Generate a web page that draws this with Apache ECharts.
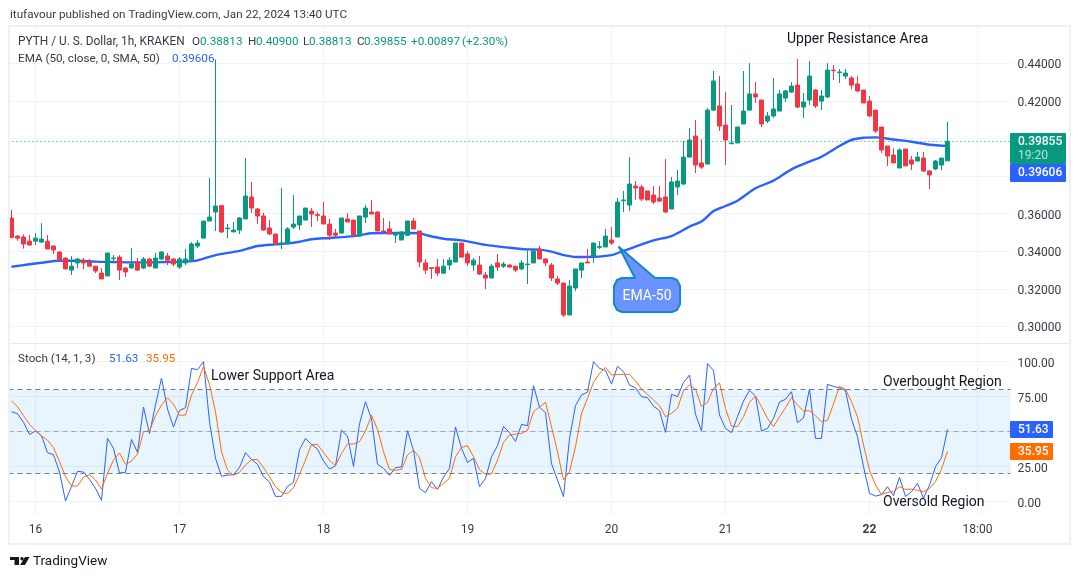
<!DOCTYPE html>
<html>
<head>
  <meta charset="utf-8" />
  <title>PYTH / U. S. Dollar, 1h</title>
  <script src="https://cdn.jsdelivr.net/npm/echarts@6/dist/echarts.min.js"></script>
  <style>
    html, body { margin: 0; padding: 0; background: #fff; }
    #main { width: 1080px; height: 579px; }
  </style>
</head>
<body>
  <div id="main"></div>
  <script>
    // hourly candles
    var opens = [
      .3577,.3481,.3476,.3454,.3454,.3449,.3454,.3428,.3396,.3364,
      .3300,.3338,.3353,.3343,.3321,.3284,.3269,.3361,.3369,.3311,
      .3311,.3343,.3311,.3359,.3311,.3359,.3375,.3359,.3316,.3338,
      .3353,.3428,.3470,.3561,.3609,.3643,.3520,.3503,.3513,.3572,
      .3689,.3625,.3588,.3524,.3492,.3439,.3439,.3529,.3540,.3566,
      .3614,.3595,.3588,.3545,.3497,.3497,.3572,.3566,.3481,.3582,
      .3609,.3609,.3508,.3519,.3486,.3460,.3485,.3561,.3508,.3338,
      .3313,.3316,.3284,.3327,.3343,.3444,.3386,.3327,.3327,.3274,
      .3258,.3338,.3321,.3327,.3321,.3306,.3329,.3338,.3412,.3359,
      .3327,.3253,.3231,.3061,.3205,.3300,.3343,.3375,.3421,.3423,
      .3460,.3476,.3669,.3646,.3747,.3742,.3721,.3699,.3683,.3689,
      .3625,.3742,.3758,.3901,.4013,.3870,.3864,.4151,.4173,.4072,
      .3972,.3976,.4077,.4151,.4237,.4205,.4093,.4120,.4146,.4215,
      .4247,.4284,.4167,.4205,.4258,.4199,.4221,.4364,.4350,.4332,
      .4322,.4290,.4258,.4199,.4151,.4061,.3960,.3912,.3843,.3944,
      .3886,.3880,.3896,.3827,.3838,.3859,.38813
    ];
    var closes = [
      .3474,.3470,.3439,.3433,.3470,.3465,.3412,.3407,.3353,.3306,
      .3321,.3359,.3338,.3321,.3295,.3253,.3391,.3364,.3300,.3290,
      .3332,.3300,.3359,.3321,.3364,.3396,.3353,.3332,.3359,.3359,
      .3439,.3444,.3561,.3582,.3641,.3503,.3524,.3513,.3577,.3694,
      .3630,.3588,.3513,.3492,.3439,.3444,.3519,.3545,.3588,.3630,
      .3598,.3591,.3545,.3486,.3486,.3577,.3556,.3486,.3588,.3630,
      .3598,.3508,.3503,.3492,.3497,.3503,.3561,.3519,.3343,.3300,
      .3309,.3284,.3321,.3353,.3444,.3369,.3338,.3353,.3279,.3258,
      .3321,.3316,.3332,.3316,.3300,.3338,.3332,.3401,.3359,.3338,
      .3258,.3231,.3061,.3215,.3306,.3338,.3338,.3444,.3425,.3481,
      .3444,.3662,.3673,.3758,.3737,.3678,.3673,.3662,.3667,.3609,
      .3769,.3774,.3901,.3992,.3859,.3848,.4151,.4306,.4066,.3992,
      .3976,.4061,.4146,.4237,.4221,.4077,.4120,.4157,.4237,.4253,
      .4279,.4167,.4194,.4332,.4173,.4226,.4364,.4361,.4354,.4348,
      .4284,.4253,.4189,.4120,.4040,.3939,.3907,.3870,.3939,.3854,
      .3864,.3901,.3827,.3806,.3880,.3896,.39855
    ];
    var lows = [
      .3469,.3456,.3414,.3433,.3433,.3444,.3412,.3386,.3353,.3306,
      .3274,.3311,.3306,.3321,.3284,.3253,.3269,.3343,.3247,.3263,
      .3311,.3295,.3306,.3316,.3311,.3353,.3327,.3321,.3306,.3327,
      .3353,.3417,.3470,.3561,.3508,.3497,.3470,.3503,.3492,.3572,
      .3604,.3545,.3508,.3486,.3439,.3412,.3439,.3519,.3513,.3566,
      .3529,.3561,.3545,.3460,.3476,.3492,.3556,.3481,.3481,.3550,
      .3598,.3508,.3503,.3492,.3444,.3460,.3481,.3519,.3316,.3279,
      .3253,.3269,.3279,.3300,.3343,.3369,.3321,.3295,.3274,.3199,
      .3258,.3295,.3311,.3311,.3290,.3300,.3226,.3338,.3359,.3321,
      .3242,.3221,.3050,.3061,.3189,.3258,.3338,.3338,.3412,.3423,
      .3433,.3476,.3609,.3614,.3673,.3667,.3673,.3652,.3662,.3604,
      .3625,.3699,.3753,.3901,.3816,.3838,.3864,.4146,.4040,.3859,
      .3971,.3976,.4077,.4151,.4189,.4061,.4082,.4109,.4146,.4194,
      .4242,.4162,.4109,.4178,.4162,.4151,.4215,.4311,.4295,.4316,
      .4263,.4247,.4189,.4114,.4029,.3923,.3854,.3870,.3843,.3854,
      .3832,.3880,.3822,.3731,.3832,.3832,.38813
    ];
    var highs = [
      .3620,.3486,.3490,.3486,.3497,.3550,.3486,.3433,.3401,.3369,
      .3375,.3364,.3364,.3359,.3321,.3311,.3391,.3380,.3380,.3316,
      .3417,.3364,.3369,.3364,.3391,.3401,.3391,.3364,.3369,.3412,
      .3449,.3460,.3561,.3790,.4421,.3643,.3545,.3556,.3582,.3896,
      .3769,.3630,.3604,.3566,.3492,.3737,.3529,.3699,.3588,.3630,
      .3630,.3609,.3662,.3572,.3519,.3577,.3604,.3566,.3588,.3646,
      .3673,.3614,.3577,.3561,.3503,.3503,.3561,.3577,.3508,.3359,
      .3313,.3359,.3359,.3369,.3444,.3444,.3401,.3364,.3375,.3290,
      .3332,.3386,.3343,.3332,.3321,.3353,.3412,.3407,.3428,.3364,
      .3338,.3269,.3231,.3247,.3306,.3338,.3412,.3444,.3454,.3519,
      .3529,.3683,.3721,.3901,.3774,.3753,.3721,.3747,.3747,.3891,
      .3795,.3832,.3987,.4056,.4098,.3997,.4162,.4359,.4332,.4247,
      .4178,.4061,.4359,.4401,.4300,.4205,.4141,.4322,.4258,.4258,
      .4300,.4423,.4242,.4412,.4263,.4258,.4401,.4391,.4370,.4370,
      .4332,.4332,.4258,.4226,.4151,.4061,.3960,.3949,.3949,.3944,
      .3907,.3928,.3928,.3832,.3886,.3896,.40900
    ];

    // EMA 50, read at these bars
    var emaIndex = [
      0,3,5,8,11,14,17,20,23,26,29,31,34,38,41,44,46,48,50,53,56,58,60,62,66,68,69,72,75,79,
      83,86,88,90,92,94,97,100,102,104,107,110,113,115,117,119,121,124,127,130,133,135,138,
      140,142,144,147,150,153,156
    ];
    var emaValues = [
      .3318,.3331,.3339,.3350,.3350,.3345,.3343,.3341,.3341,.3343,.3345,.3352,.3380,.3402,.3428,
      .3437,.3442,.3451,.3464,.3471,.3478,.3485,.3496,.3497,.3497,.3496,.3487,.3467,.3458,.3434,
      .3419,.3410,.3409,.3398,.3380,.3370,.3371,.3380,.3402,.3425,.3458,.3481,.3531,.3558,.3614,
      .3641,.3669,.3735,.3776,.3836,.3877,.3903,.3960,.3992,.4004,.4006,.3995,.3983,.3967,.39606
    ];

    var stochK = [
      64.3,62.9,56.7,48.1,50.5,47.1,35.0,33.6,21.2,0.5,
      10.9,21.7,21.2,16,9.5,1,45.2,38.1,20.5,21,
      44.5,35.2,67.6,48.6,69,88.3,66.2,53.3,65.2,67.1,
      95.2,94.3,100,57.1,31,18.1,19,19.3,24.5,35,
      30.2,26.7,17.9,14,3.8,3.8,10.9,13.8,37.1,45.2,
      40.9,37.6,29,23.3,25.7,51,46.9,25.2,55.7,71.4,
      59,26.7,23.8,18.8,24.3,24.8,50.7,36.7,9.5,6.4,
      14.3,8.8,17.6,23.8,53.3,38.1,28.1,31,10.7,16.7,
      32.1,40,53.8,49.3,43.1,55.2,54.3,82.9,67.4,63.6,
      27.1,15.5,3.6,45.2,68.6,76.2,78.3,100,95.2,93.8,
      84,96.7,92.9,83.3,81.4,75,74.3,68.3,65,49.5,
      76.7,75,85.2,90.5,62.4,50.5,98.6,93.8,61.9,52.4,
      49.3,60.7,71.9,79.5,75.5,50.5,52.4,59.5,71.2,73.1,
      78.6,56.4,59.8,80.5,45.2,45.2,83.8,82.4,81.4,79.3,
      59,46.4,25,6,4,5,10.7,4.3,17.4,3.8,
      7.1,13.1,2.4,11.9,25,31.4,51.63
    ];
    var stochD = [
      71.9,67.9,61.4,55.2,51,47.1,44,38.6,28.6,17.9,
      11.2,11.2,17.6,19.3,15.5,9,20.2,29.8,34.8,26.7,
      29,34,50,50.5,61.4,69,74.3,69.5,61.7,61.9,
      76.2,85.2,96.4,83.8,64.3,35.7,22.6,18.8,21,26.2,
      30,30.2,24.3,17.9,10.7,6.7,5.7,10,19.5,29.8,
      40.9,40.9,35.2,29.5,25.7,34.5,41.2,41.2,42.9,50.5,
      61.7,51.7,35.7,22.9,22.4,23.1,33.3,36.9,31.4,16.7,
      10,9.5,13.1,16.7,32.1,38.8,40,32.1,22.9,19.5,
      19.8,29.8,42.4,47.6,48.3,48.8,51,64.3,67.6,71,
      53.6,35.7,15.5,21.4,39.3,63.1,73.8,85.2,91.7,95.9,
      90.5,90.9,90.9,90.9,86.2,80.5,76.7,72.6,68.6,60.7,
      63.1,66.7,79.3,83.3,80.5,67.9,71,81,84.8,66.7,
      54,53.6,60.7,71,75.5,67.9,59.5,53.6,60.7,67.1,
      74.3,69,64.8,65,61.4,57.1,58.1,69.8,82.4,80.2,
      71.4,60.7,40.5,22.6,11.9,5.2,6.7,7.1,10.7,8.8,
      9,8.1,7.1,9.5,14.3,23.3,35.95
    ];

    var tickBars = [4, 28, 52, 76, 100, 119, 143, 161];
    var tickLabels = ['16', '17', '18', '19', '20', '21', '22', '18:00'];
    var priceTicks = [0.30, 0.32, 0.34, 0.36, 0.38, 0.40, 0.42, 0.44];
    var priceLabels = [0.30, 0.32, 0.34, 0.36, 0.42, 0.44]; // 0.38 and 0.40 sit under the tags
    var stochTicks = [0, 25, 50, 75, 100];
    var stochLabels = [0, 25, 75, 100];

    var barSlots = 167; // bars plus the empty space up to the price scale
    var categories = [];
    for (var i = 0; i < barSlots; i++) categories.push(String(i));

    var candles = opens.map(function (o, k) { return [o, closes[k], lows[k], highs[k]]; });
    var ema = emaIndex.map(function (b, k) { return [b, emaValues[k]]; });

    var UP = '#089981', DOWN = '#f23645', BLUE = '#2962ff', ORANGE = '#ff6d00';
    var TEXT = '#363a45', GRID = '#f0f3fa';
    var FONT = 'Roboto, "Noto Sans", sans-serif';

    function showTick(idx) { return tickBars.indexOf(idx) >= 0; }

    function txt(x, y, s, color, size, extra) {
      var style = { x: x, y: y, text: s, fill: color, font: (size || 11.7) + 'px ' + FONT, verticalAlign: 'middle' };
      for (var k in (extra || {})) style[k] = extra[k];
      return { type: 'text', z: 100, silent: true, style: style };
    }

    function box(x, y, w, h, color, r) {
      return { type: 'rect', z: 90, silent: true, shape: { x: x, y: y, width: w, height: h, r: r || 0 }, style: { fill: color } };
    }

    var graphics = [
      // frame around the chart
      box(0, 27, 9, 517, '#fff'),
      { type: 'rect', z: 91, silent: true, shape: { x: 9, y: 26, width: 1061, height: 518 }, style: { fill: 'none', stroke: '#eef0f6', lineWidth: 2 } },
      { type: 'line', z: 91, silent: true, shape: { x1: 10, y1: 343.5, x2: 1070, y2: 343.5 }, style: { stroke: '#e8eaf0', lineWidth: 1 } },

      txt(10, 15.5, 'itufavour published on TradingView.com, Jan 22, 2024 13:40 UTC', TEXT),

      // legend rows
      txt(18, 42.5, 'PYTH / U. S. Dollar, 1h, KRAKEN', TEXT, 11.85),
      txt(192, 42.5, 'O', TEXT), txt(200, 42.5, '0.38813', UP),
      txt(248, 42.5, 'H', TEXT), txt(256, 42.5, '0.40900', UP),
      txt(303, 42.5, 'L', TEXT), txt(309, 42.5, '0.38813', UP),
      txt(357, 42.5, 'C', TEXT), txt(364, 42.5, '0.39855', UP),
      txt(411, 42.5, '+0.00897', UP), txt(462, 42.5, '(+2.30%)', UP),
      txt(18, 59.5, 'EMA (50, close, 0, SMA, 50)', TEXT),
      txt(172, 59.5, '0.39606', BLUE),
      txt(18, 359.5, 'Stoch (14, 1, 3)', TEXT),
      txt(109, 359.5, '51.63', BLUE),
      txt(146, 359.5, '35.95', ORANGE),

      // notes on the chart
      txt(787, 39, 'Upper Resistance Area', '#131722', 14),
      txt(211, 376, 'Lower Support Area', '#131722', 14),
      txt(883, 382, 'Overbought Region', '#131722', 14),
      txt(883, 502, 'Oversold Region', '#131722', 14),

      // EMA-50 callout
      {
        type: 'polygon', z: 95, silent: true,
        shape: { points: [[619, 247], [655, 278], [672, 278], [677, 280], [680, 286], [680, 304], [677, 310], [672, 312], [622, 312], [617, 310], [614, 304], [614, 286], [617, 280], [622, 278], [635, 278]] },
        style: { fill: '#6b93ff', stroke: '#1289c9', lineWidth: 2, lineJoin: 'round' }
      },
      txt(647, 296, 'EMA-50', '#fff', 14, { align: 'center' }),

      // price scale tags
      box(1010, 133, 56, 31, UP, 1),
      txt(1018, 142, '0.39855', '#fff', 12, { font: '500 12px ' + FONT }),
      txt(1018, 156, '19:20', '#b5e2d6', 12),
      box(1010, 164, 56, 18, BLUE, 1),
      txt(1018, 173, '0.39606', '#fff', 12, { font: '500 12px ' + FONT }),

      // stochastic tags
      box(1010, 421, 43, 17, BLUE, 1),
      txt(1018, 430, '51.63', '#fff', 12, { font: '500 12px ' + FONT }),
      box(1010, 443, 43, 17, ORANGE, 1),
      txt(1018, 452, '35.95', '#fff', 12, { font: '500 12px ' + FONT }),

      // footer logo
      { type: 'polygon', z: 100, silent: true, shape: { points: [[10, 557], [19, 557], [19, 565], [14.5, 565], [14.5, 560], [10, 560]] }, style: { fill: '#131722' } },
      { type: 'polygon', z: 100, silent: true, shape: { points: [[25, 557], [29.5, 557], [25, 565], [20, 565]] }, style: { fill: '#131722' } },
      { type: 'circle', z: 100, silent: true, shape: { cx: 22, cy: 558.7, r: 1.7 }, style: { fill: '#131722' } },
      txt(33, 562, 'TradingView', '#131722', 13.5)
    ];

    var option = {
      animation: false,
      backgroundColor: '#fff',
      textStyle: { fontFamily: FONT },
      graphic: graphics,
      grid: [
        { left: 8.5, right: 69.5, top: 27, height: 316 },
        { left: 8.5, right: 69.5, top: 344, height: 171 }
      ],
      xAxis: [0, 1].map(function (g) {
        return {
          type: 'category',
          gridIndex: g,
          data: categories,
          boundaryGap: true,
          axisLine: { show: false },
          axisTick: { show: false },
          axisLabel: {
            show: g === 1,
            margin: 9,
            color: TEXT,
            fontSize: 12,
            interval: showTick,
            formatter: function (v, idx) {
              var s = tickLabels[tickBars.indexOf(idx)];
              return s === '22' ? '{b|22}' : s;
            },
            rich: { b: { fontWeight: 'bold', color: TEXT, fontSize: 12 } }
          },
          splitLine: { show: true, alignWithLabel: true, interval: showTick, lineStyle: { color: GRID } }
        };
      }),
      yAxis: [
        {
          type: 'value',
          gridIndex: 0,
          position: 'right',
          min: 0.29122,
          max: 0.45931,
          axisLine: { show: false },
          axisTick: { show: false, customValues: priceTicks },
          axisLabel: {
            customValues: priceLabels,
            margin: 7,
            verticalAlign: 'top',
            lineHeight: 4,
            color: TEXT,
            fontSize: 12,
            formatter: function (v) { return v.toFixed(5); }
          },
          splitLine: { lineStyle: { color: GRID } }
        },
        {
          type: 'value',
          gridIndex: 1,
          position: 'right',
          min: -9.5,
          max: 112.64,
          axisLine: { show: false },
          axisTick: { show: false, customValues: stochTicks },
          axisLabel: {
            customValues: stochLabels,
            margin: 7,
            verticalAlign: 'top',
            lineHeight: 4,
            color: TEXT,
            fontSize: 12,
            formatter: function (v) { return v.toFixed(2); }
          },
          splitLine: { lineStyle: { color: GRID } }
        }
      ],
      series: [
        {
          type: 'line',
          name: 'EMA',
          xAxisIndex: 0,
          yAxisIndex: 0,
          data: ema,
          z: 3,
          smooth: 0.3,
          showSymbol: false,
          lineStyle: { color: BLUE, width: 2.4 }
        },
        {
          type: 'candlestick',
          name: 'PYTH',
          xAxisIndex: 0,
          yAxisIndex: 0,
          data: candles,
          z: 4,
          barWidth: 4,
          itemStyle: { color: UP, color0: DOWN, borderColor: UP, borderColor0: DOWN, borderWidth: 1 },
          markLine: {
            silent: true,
            symbol: 'none',
            precision: 5,
            label: { show: false },
            lineStyle: { color: UP, type: [1, 3], width: 1 },
            data: [{ yAxis: closes[closes.length - 1] }]
          }
        },
        {
          type: 'line',
          name: '%K',
          xAxisIndex: 1,
          yAxisIndex: 1,
          data: stochK,
          z: 3,
          showSymbol: false,
          lineStyle: { color: BLUE, width: 1 },
          markArea: {
            silent: true,
            itemStyle: { color: 'rgba(33,150,243,0.1)' },
            data: [[{ yAxis: 80 }, { yAxis: 20 }]]
          },
          markLine: {
            silent: true,
            symbol: 'none',
            label: { show: false },
            data: [
              { yAxis: 80, lineStyle: { color: '#787b86', type: [5, 4], width: 1 } },
              { yAxis: 50, lineStyle: { color: 'rgba(120,123,134,0.6)', type: [5, 4], width: 1 } },
              { yAxis: 20, lineStyle: { color: '#787b86', type: [5, 4], width: 1 } }
            ]
          }
        },
        {
          type: 'line',
          name: '%D',
          xAxisIndex: 1,
          yAxisIndex: 1,
          data: stochD,
          z: 4,
          showSymbol: false,
          lineStyle: { color: ORANGE, width: 1 }
        }
      ]
    };

    var chart = echarts.init(document.getElementById('main'), null, { renderer: 'canvas' });
    chart.setOption(option);
  </script>
</body>
</html>
